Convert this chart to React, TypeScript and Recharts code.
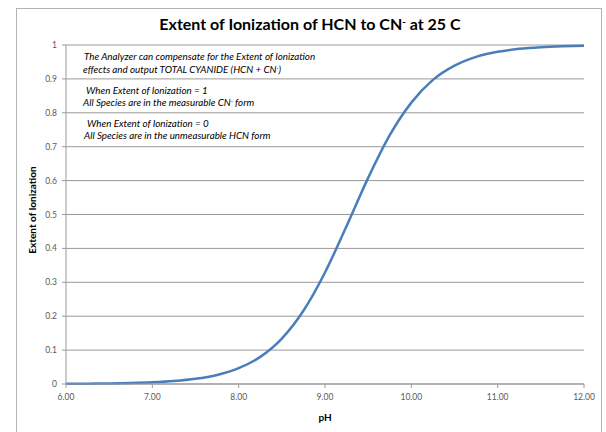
import { CartesianGrid, Line, LineChart, XAxis, YAxis } from "recharts";

const phValues = [
  6.0, 6.25, 6.5, 6.75, 7.0, 7.25, 7.5, 7.75, 8.0, 8.25, 8.5, 8.75, 9.0, 9.25,
  9.5, 9.75, 10.0, 10.25, 10.5, 10.75, 11.0, 11.25, 11.5, 11.75, 12.0,
];
const ionization = [
  0.0005, 0.0009, 0.0016, 0.0028, 0.0049, 0.0086, 0.0152, 0.0268, 0.0467, 0.08,
  0.134, 0.216, 0.329, 0.466, 0.608, 0.734, 0.83, 0.897, 0.939, 0.965, 0.98,
  0.9887, 0.9936, 0.9964, 0.998,
];
const xTicks = [6, 7, 8, 9, 10, 11, 12];
const yTicks = [0, 0.1, 0.2, 0.3, 0.4, 0.5, 0.6, 0.7, 0.8, 0.9, 1];

const data = phValues.map((ph, i) => ({ ph, value: ionization[i] }));

const FONT = "Lato, 'Open Sans', sans-serif";
const tickStyle = { fill: "#595959", fontSize: 8.5, fontFamily: FONT };

function Sup({ children }: { children: string }) {
  return (
    <tspan baselineShift="super" fontSize="0.6em">
      {children}
    </tspan>
  );
}

export default function App() {
  return (
    <div style={{ position: "relative", width: 606, height: 432, background: "#fff", overflow: "hidden" }}>
      <style>{`body { margin: 0; }`}</style>
      <div
        style={{
          position: "absolute",
          left: 16,
          top: 8,
          width: 586,
          height: 440,
          border: "1px solid #b3b3b3",
          boxSizing: "border-box",
        }}
      />
      <div style={{ position: "absolute", left: 0, top: 0 }}>
        <LineChart
          width={606}
          height={432}
          data={data}
          margin={{ top: 45, right: 22, bottom: 18, left: 36 }}
        >
          <CartesianGrid stroke="#999999" vertical={false} />
          <XAxis
            dataKey="ph"
            type="number"
            domain={[6, 12]}
            ticks={xTicks}
            tickFormatter={(v: number) => v.toFixed(2)}
            tick={tickStyle}
            tickSize={4}
            tickMargin={6}
            stroke="#999999"
            height={30}
            interval={0}
          />
          <YAxis
            type="number"
            domain={[0, 1]}
            ticks={yTicks}
            tickFormatter={(v: number) => String(Number(v.toFixed(1)))}
            tick={tickStyle}
            tickSize={4}
            tickMargin={5}
            stroke="#999999"
            width={30}
            interval={0}
          />
          <Line
            dataKey="value"
            type="monotone"
            stroke="#4a7ebb"
            strokeWidth={2.5}
            dot={false}
            isAnimationActive={false}
          />
        </LineChart>
      </div>
      <svg
        width={606}
        height={432}
        style={{ position: "absolute", left: 0, top: 0, pointerEvents: "none" }}
        fontFamily={FONT}
      >
        <text x={310} y={30} textAnchor="middle" fontSize={16} fontWeight="bold" fill="#000">
          Extent of Ionization of HCN to CN<Sup>-</Sup> at 25 C
        </text>
        <text
          x={36}
          y={210}
          textAnchor="middle"
          fontSize={10}
          fontWeight="bold"
          fill="#000"
          transform="rotate(-90 36 210)"
        >
          Extent of Ionization
        </text>
        <text x={325} y={421} textAnchor="middle" fontSize={10} fontWeight="bold" fill="#000">
          pH
        </text>
        <g fontSize={9.8} fontStyle="italic" fill="#000">
          <text x={84} y={60}>The Analyzer can compensate for the Extent of Ionization</text>
          <text x={83} y={72.5}>
            effects and output TOTAL CYANIDE (HCN + CN<Sup>-</Sup>)
          </text>
          <text x={86} y={94}>When Extent of Ionization = 1</text>
          <text x={83} y={106}>
            All Species are in the measurable CN<Sup>-</Sup> form
          </text>
          <text x={87} y={126.5}>When Extent of Ionization = 0</text>
          <text x={84} y={138.5}>All Species are in the unmeasurable HCN form</text>
        </g>
      </svg>
    </div>
  );
}
